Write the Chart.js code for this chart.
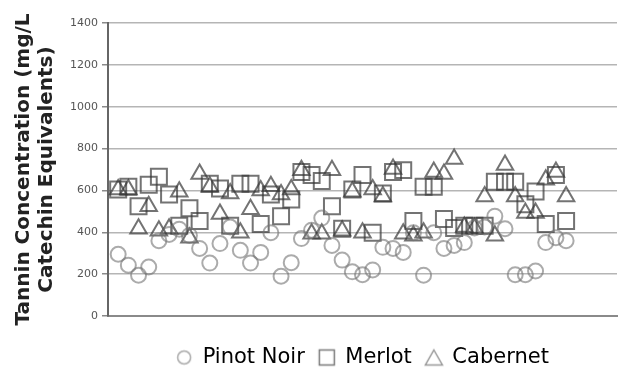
<!DOCTYPE html>
<html>
<head>
<meta charset="utf-8">
<script src="https://cdn.jsdelivr.net/npm/chart.js@4/dist/chart.umd.min.js"></script>
<style>
  html, body { margin: 0; padding: 0; background: #ffffff; overflow: hidden; }
  #wrap { width: 618px; height: 379px; }
  #chart { display: block; }
</style>
</head>
<body>
<div id="wrap"><canvas id="chart" width="618" height="379"></canvas></div>
<script>
// Sample numbers along the horizontal axis (one wine per position)
const samples = [
  1, 2, 3, 4, 5, 6, 7, 8, 9, 10, 11, 12, 13, 14, 15,
  16, 17, 18, 19, 20, 21, 22, 23, 24, 25, 26, 27, 28, 29, 30,
  31, 32, 33, 34, 35, 36, 37, 38, 39, 40, 41, 42, 43, 44, 45
];

// Tannin concentration, mg/L catechin equivalents
const pinotNoir = [
  295, 243, 195, 234, 360, 390, 415, 385, 323, 253, 346, 425, 314, 253, 304,
  398, 190, 255, 370, 410, 468, 337, 267, 211, 197, 220, 328, 323, 304, 398,
  195, 398, 323, 337, 351, 420, 425, 477, 417, 197, 197, 215, 351, 374, 360
];
const merlot = [
  604, 618, 524, 627, 665, 580, 431, 515, 454, 632, 609, 431, 632, 632, 440,
  580, 477, 557, 688, 674, 645, 524, 417, 604, 674, 398, 585, 688, 697, 454,
  618, 618, 463, 421, 431, 431, 431, 641, 641, 641, 534, 595, 440, 674, 454
];
const cabernet = [
  604, 604, 417, 524, 407, 417, 594, 374, 679, 618, 487, 585, 398, 510, 600,
  620, 580, 604, 697, 393, 393, 697, 407, 594, 398, 604, 571, 702, 393, 384,
  398, 688, 679, 750, 425, 420, 571, 384, 721, 571, 492, 492, 651, 688, 571
];

const seriesNames = ['Pinot Noir', 'Merlot', 'Cabernet'];
const yTicks = [0, 200, 400, 600, 800, 1000, 1200, 1400];

const toPoints = values => values.map((v, i) => ({ x: samples[i], y: v }));

// Small hollow symbols used as legend markers
function legendSymbol(kind, color) {
  const c = document.createElement('canvas');
  c.width = 20; c.height = 20;
  const g = c.getContext('2d');
  g.strokeStyle = color;
  g.lineWidth = 1.5;
  g.beginPath();
  if (kind === 'circle') {
    g.arc(10, 10, 6.5, 0, Math.PI * 2);
  } else if (kind === 'rect') {
    g.rect(2.5, 2.5, 15, 15);
  } else {
    g.moveTo(10, 2.5);
    g.lineTo(18.5, 17.5);
    g.lineTo(1.5, 17.5);
    g.closePath();
  }
  g.stroke();
  return c;
}
const legendSymbols = [
  legendSymbol('circle', '#aaaaaa'),
  legendSymbol('rect', '#7a7a7a'),
  legendSymbol('triangle', '#999999')
];

const chart = new Chart(document.getElementById('chart'), {
  type: 'scatter',
  data: {
    datasets: [
      {
        label: seriesNames[0],
        data: toPoints(pinotNoir),
        pointStyle: 'circle',
        pointRadius: 7.5,
        borderWidth: 2,
        borderColor: 'rgba(115,115,115,0.6)',
        backgroundColor: 'rgba(0,0,0,0)'
      },
      {
        label: seriesNames[1],
        data: toPoints(merlot),
        pointStyle: 'rect',
        pointRadius: 11.3,
        borderWidth: 2,
        borderColor: 'rgba(55,55,55,0.7)',
        backgroundColor: 'rgba(0,0,0,0)'
      },
      {
        label: seriesNames[2],
        data: toPoints(cabernet),
        pointStyle: 'triangle',
        pointRadius: 9.5,
        borderWidth: 2,
        borderColor: 'rgba(55,55,55,0.7)',
        backgroundColor: 'rgba(0,0,0,0)'
      }
    ]
  },
  options: {
    responsive: false,
    animation: false,
    events: [],
    devicePixelRatio: 1,
    layout: { autoPadding: false, padding: { left: 0, right: 1, top: 23, bottom: 1 } },
    plugins: {
      tooltip: { enabled: false },
      legend: {
        position: 'bottom',
        fullSize: false,
        labels: {
          usePointStyle: true,
          boxWidth: 16,
          boxHeight: 16,
          padding: 14,
          color: '#444444',
          font: { family: 'DejaVu Sans', size: 21 },
          generateLabels: c => c.data.datasets.map((ds, i) => ({
            text: ds.label,
            pointStyle: legendSymbols[i],
            fillStyle: 'rgba(0,0,0,0)',
            strokeStyle: 'rgba(0,0,0,0)',
            lineWidth: 0,
            hidden: false,
            datasetIndex: i
          }))
        }
      }
    },
    scales: {
      x: {
        type: 'linear',
        min: 0,
        max: 50,
        ticks: { display: false },
        grid: { display: false },
        border: { display: true, color: '#8a8a8a', width: 2 },
        afterFit: s => { s.height = 17; }
      },
      y: {
        min: 0,
        max: 1400,
        afterBuildTicks: axis => { axis.ticks = yTicks.map(v => ({ value: v })); },
        ticks: {
          color: '#555555',
          padding: 4,
          font: { family: 'DejaVu Sans', size: 11 },
          callback: v => String(v)
        },
        grid: { color: '#b5b5b5', lineWidth: 1.5, tickLength: 6, tickColor: '#8a8a8a' },
        border: { color: '#666666', width: 2 },
        title: {
          display: true,
          text: ['Tannin Concentration (mg/L', 'Catechin Equivalents)'],
          color: '#222222',
          font: { family: 'DejaVu Sans', size: 20, weight: 'bold', lineHeight: 1.15 },
          padding: { top: 12.5, bottom: 0 }
        },
        afterFit: s => { s.width = 108; }
      }
    }
  }
});
</script>
</body>
</html>
